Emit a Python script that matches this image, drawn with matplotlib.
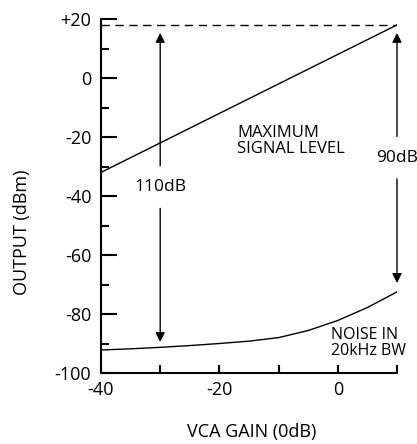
import matplotlib.pyplot as plt
import numpy as np

plt.rcParams['font.family'] = ['Open Sans', 'DejaVu Sans']
plt.rcParams['axes.unicode_minus'] = False

# gain axis and curves
gain = [-40, -35, -30, -25, -20, -15, -10, -5, 0, 5, 10]
noise = [-92.2, -91.8, -91.3, -90.7, -90.0, -89.2, -88.0, -85.6, -82.2, -77.8, -72.5]
max_gain = [-40, 10]
max_level = [-32, 18]
top_level = 18

# dynamic range arrows: x, top tip, bottom tip, label, label y
arrow_x = [-30, 10]
arrow_top = [15.3, 15.3]
arrow_bot = [-89.5, -69.5]
arrow_lab = ['110dB', '90dB']
arrow_laby = [-37, -27]

fig = plt.figure(figsize=(4.17, 4.44), dpi=100)
ax = fig.add_axes([0.2422, 0.1599, 0.952 - 0.2422, 0.9572 - 0.1599])

ax.plot(max_gain, max_level, color='black', lw=1.0)
ax.plot(gain, noise, color='black', lw=1.0)
ax.plot(max_gain, [top_level, top_level], color='black', lw=1.0, ls=(0, (6, 4)))

for x, t, b, lab, ly in zip(arrow_x, arrow_top, arrow_bot, arrow_lab, arrow_laby):
    ax.text(x, ly, lab, ha='center', va='center', fontsize=12.5)
    ax.annotate('', xy=(x, t), xytext=(x, ly + 7.2),
                arrowprops=dict(arrowstyle='-|>', color='black', lw=1.0,
                                mutation_scale=14, shrinkA=0, shrinkB=0))
    ax.annotate('', xy=(x, b), xytext=(x, ly - 7.2),
                arrowprops=dict(arrowstyle='-|>', color='black', lw=1.0,
                                mutation_scale=14, shrinkA=0, shrinkB=0))

ax.text(-17, -21.4, 'MAXIMUM\nSIGNAL LEVEL', ha='left', va='center', fontsize=12, linespacing=1.0)
ax.text(-1.2, -89.8, 'NOISE IN\n20kHz BW', ha='left', va='center', fontsize=11.5, linespacing=1.0)

ax.set_xlim(-40, 10)
ax.set_ylim(-100, 20)
ax.spines['top'].set_visible(False)
ax.spines['right'].set_visible(False)
ax.spines['left'].set_linewidth(1.5)
ax.spines['bottom'].set_linewidth(1.5)

ax.set_yticks([-100, -80, -60, -40, -20, 0, 20])
ax.set_yticklabels(['-100', '-80', '-60', '-40', '-20', '0', '+20'])
ax.set_yticks([-90, -70, -50, -30, -10, 10], minor=True)
ax.set_xticks([-40, -20, 0])
ax.set_xticks([-30, -10, 10], minor=True)
ax.tick_params(axis='y', which='major', direction='in', length=11.5, width=1.5, pad=7, labelsize=13)
ax.tick_params(axis='y', which='minor', direction='in', length=6, width=1.5)
ax.tick_params(axis='x', which='both', direction='in', length=6, width=1.5, pad=6, labelsize=13)

fig.text(22 / 417, 1 - 232 / 444, 'OUTPUT (dBm)', rotation=90, ha='center', va='center', fontsize=13)
fig.text(252 / 417, 1 - 432 / 444, 'VCA GAIN (0dB)', ha='center', va='center', fontsize=13)

fig.savefig('out.png', dpi=100)
